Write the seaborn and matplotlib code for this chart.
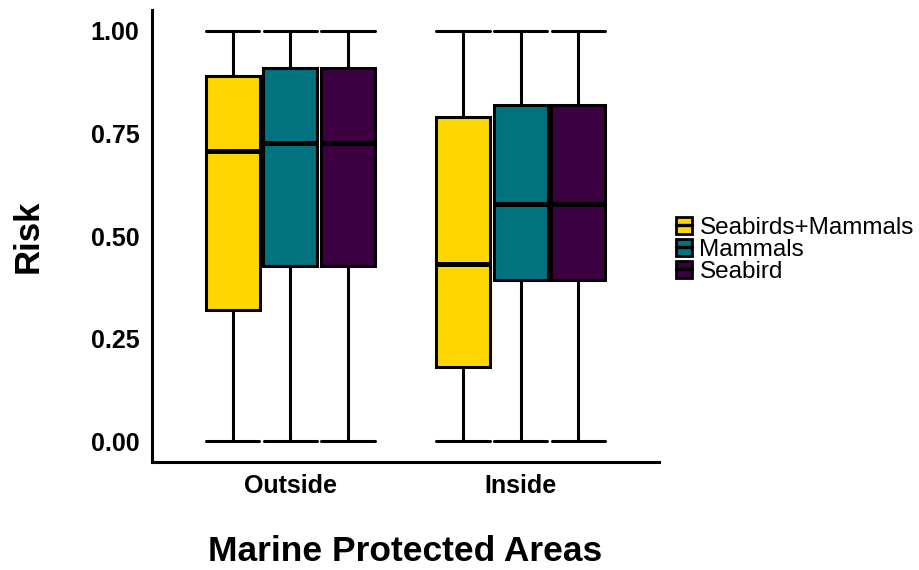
import numpy as np
import pandas as pd
import matplotlib
matplotlib.use("Agg")
import matplotlib.pyplot as plt
import matplotlib.font_manager as fm
import seaborn as sns
from matplotlib.patches import Patch
from matplotlib.lines import Line2D
from matplotlib.legend_handler import HandlerTuple

# box summaries (whiskers run from 0 to 1)
areas = ["Outside", "Outside", "Outside", "Inside", "Inside", "Inside"]
groups = ["Seabirds+Mammals", "Mammals", "Seabird"] * 2
risk_min = [0.0, 0.0, 0.0, 0.0, 0.0, 0.0]
risk_q1 = [0.320, 0.428, 0.428, 0.181, 0.394, 0.394]
risk_median = [0.707, 0.726, 0.726, 0.433, 0.579, 0.579]
risk_q3 = [0.890, 0.910, 0.910, 0.790, 0.819, 0.819]
risk_max = [1.0, 1.0, 1.0, 1.0, 1.0, 1.0]

area_order = ["Outside", "Inside"]
group_order = ["Seabirds+Mammals", "Mammals", "Seabird"]
colours = ["#FFD700", "#00737F", "#3C0041"]

rows = []
for i in range(len(areas)):
    for v in (risk_min[i], risk_q1[i], risk_median[i], risk_q3[i], risk_max[i]):
        rows.append({"area": areas[i], "group": groups[i], "risk": v})
df = pd.DataFrame(rows)


def font(size, bold=False):
    # pick the plain Liberation Sans file, not the Narrow one
    want = "LiberationSans-Bold.ttf" if bold else "LiberationSans-Regular.ttf"
    for path in fm.findSystemFonts():
        if path.endswith(want):
            return fm.FontProperties(fname=path, size=size)
    return fm.FontProperties(family="DejaVu Sans", size=size,
                             weight="bold" if bold else "normal")


sns.set_style("white")
plt.rcParams["font.family"] = ["Liberation Sans", "DejaVu Sans"]
plt.rcParams["text.color"] = "black"

fig = plt.figure(figsize=(9.19, 5.70), dpi=100)
ax = fig.add_axes([0.1654, 0.1895, 0.5517, 0.7925])

lw = 2.2
sns.boxplot(data=df, x="area", y="risk", hue="group",
            order=area_order, hue_order=group_order, palette=colours,
            saturation=1, width=0.75, gap=0.06, whis=np.inf,
            linecolor="black", linewidth=lw, capwidths=0.232,
            medianprops={"linewidth": 3.6}, legend=False, ax=ax)

ax.set_xlim(0.4 - 1, 2.6 - 1)
ax.set_ylim(-0.05, 1.05)
ax.set_yticks([0, 0.25, 0.5, 0.75, 1.0])
ax.set_yticklabels(["0.00", "0.25", "0.50", "0.75", "1.00"])

for side in ["top", "right"]:
    ax.spines[side].set_visible(False)
for side in ["left", "bottom"]:
    ax.spines[side].set_linewidth(lw)
    ax.spines[side].set_color("black")

ax.tick_params(axis="both", length=7, width=lw, color="black",
               labelcolor="black", pad=2)
for lab in ax.get_xticklabels() + ax.get_yticklabels():
    lab.set_fontproperties(font(18, bold=True))

ax.set_xlabel("Marine Protected Areas", fontproperties=font(25.5, bold=True),
              color="black", labelpad=26)
ax.set_ylabel("Risk", fontproperties=font(25, bold=True),
              color="black", labelpad=33)

handles = []
for c in colours:
    handles.append((Patch(facecolor=c, edgecolor="black", linewidth=2.0),
                    Line2D([0], [0], color="black", linewidth=2.4)))
leg = ax.legend(handles, group_order, handler_map={tuple: HandlerTuple(ndivide=1)},
                loc="center left", bbox_to_anchor=(1.015, 0.47), frameon=False,
                prop=font(17.5), handlelength=0.65, handleheight=0.7,
                handletextpad=0.3, labelspacing=0.0, borderaxespad=0)
for t in leg.get_texts():
    t.set_color("black")

fig.savefig("out.png", dpi=100)
